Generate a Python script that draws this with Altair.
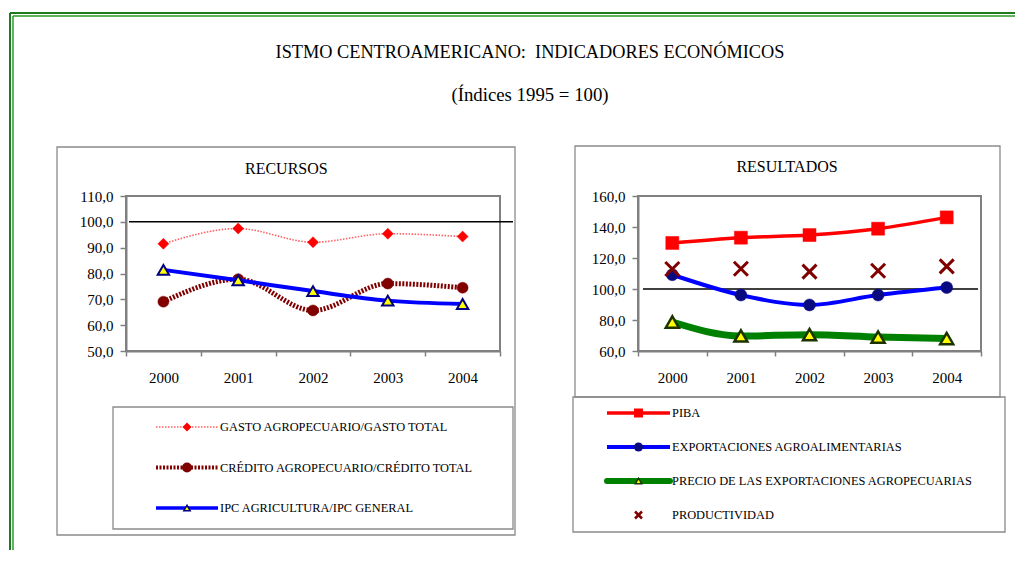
import altair as alt
import pandas as pd

# ---------------- data ----------------
years = ["2000", "2001", "2002", "2003", "2004"]

gasto = [91.5, 97.4, 92.1, 95.4, 94.3]
credito = [69.1, 77.8, 65.7, 76.1, 74.5]
ipc = [81.4, 77.4, 73.2, 69.5, 68.2]

piba = [129.7, 133.1, 134.8, 138.9, 146.2]
exportaciones = [109.2, 96.1, 89.7, 96.1, 100.9]
precio = [78.7, 69.7, 70.5, 69.0, 68.0]
productividad = [112.9, 113.1, 111.2, 111.8, 114.6]

left_ticks = [50, 60, 70, 80, 90, 100, 110]
right_ticks = [60, 80, 100, 120, 140, 160]
base_index = [100]

title_text = "ISTMO CENTROAMERICANO:\u00a0 INDICADORES ECONÓMICOS"
subtitle_text = "(Índices 1995 = 100)"
left_title = "RECURSOS"
right_title = "RESULTADOS"
left_labels = ["GASTO AGROPECUARIO/GASTO TOTAL",
               "CRÉDITO AGROPECUARIO/CRÉDITO TOTAL",
               "IPC AGRICULTURA/IPC GENERAL"]
right_labels = ["PIBA",
                "EXPORTACIONES AGROALIMENTARIAS",
                "PRECIO DE LAS EXPORTACIONES AGROPECUARIAS",
                "PRODUCTIVIDAD"]

FONT = "'Liberation Serif', 'Times New Roman', 'DejaVu Serif', serif"
GRAY = "#808080"
LABEL_EXPR = "replace(format(datum.value, '.1f'), '.', ',')"
dummy = pd.DataFrame({"d": [0]})


def x_enc():
    return alt.X("year:O",
                 scale=alt.Scale(type="band", paddingInner=0, paddingOuter=0),
                 bandPosition=0.5,
                 axis=alt.Axis(title=None, labelAngle=0, tickBand="extent",
                               labelFont=FONT, labelFontSize=15, labelColor="black",
                               labelPadding=14, tickSize=5, tickColor=GRAY,
                               tickWidth=1.5, domainColor=GRAY, domainWidth=2))


def y_enc(domain, ticks):
    return alt.Y("value:Q",
                 scale=alt.Scale(domain=domain, nice=False, zero=False),
                 axis=alt.Axis(title=None, values=ticks, labelExpr=LABEL_EXPR,
                               grid=False, tickSize=6, labelPadding=7,
                               labelFont=FONT, labelFontSize=15, labelColor="black",
                               tickColor=GRAY, tickWidth=1.5,
                               domainColor=GRAY, domainWidth=2))


def series(values, domain, ticks, line=None, point=None):
    df = pd.DataFrame({"year": years, "value": values})
    out = []
    if line is not None:
        out.append(alt.Chart(df).mark_line(interpolate="monotone", **line)
                   .encode(x=x_enc(), y=y_enc(domain, ticks)))
    if point is not None:
        out.append(alt.Chart(df).mark_point(opacity=1, **point)
                   .encode(x=x_enc(), y=y_enc(domain, ticks)))
    return out


def ref_line(domain, ticks, x0, x1):
    df = pd.DataFrame({"value": base_index})
    return alt.Chart(df).mark_rule(color="black", strokeWidth=1.5).encode(
        y=y_enc(domain, ticks), x=alt.value(x0), x2=alt.value(x1))


def legend_rows(labels, styles, xr, yr):
    lx = alt.Scale(domain=[0, 1], range=xr, nice=False, zero=False)
    ly = alt.Scale(domain=[0, len(labels) - 1], range=yr, nice=False, zero=False)
    out = []
    for i, (lab, (line, point)) in enumerate(zip(labels, styles)):
        df = pd.DataFrame({"s": [0], "e": [1], "m": [0.5], "row": [i], "label": [lab]})
        if line is not None:
            out.append(alt.Chart(df).mark_rule(**line).encode(
                x=alt.X("s:Q", scale=lx, axis=None), x2="e:Q",
                y=alt.Y("row:Q", scale=ly, axis=None)))
        out.append(alt.Chart(df).mark_point(opacity=1, **point).encode(
            x=alt.X("m:Q", scale=lx, axis=None),
            y=alt.Y("row:Q", scale=ly, axis=None)))
        out.append(alt.Chart(df).mark_text(align="left", baseline="middle", dx=2,
                                           font=FONT, fontSize=12.4, color="black").encode(
            x=alt.X("e:Q", scale=lx, axis=None),
            y=alt.Y("row:Q", scale=ly, axis=None), text="label:N"))
    return out


def rule_px(x, x2, y, y2, color, width):
    return alt.Chart(dummy).mark_rule(color=color, strokeWidth=width).encode(
        x=alt.value(x), x2=alt.value(x2), y=alt.value(y), y2=alt.value(y2))


def box_px(x, x2, y, y2, color="#8a8a8a", width=1.3):
    return alt.Chart(dummy).mark_rect(fillOpacity=0, stroke=color, strokeWidth=width).encode(
        x=alt.value(x), x2=alt.value(x2), y=alt.value(y), y2=alt.value(y2))


def text_px(x, y, text, size):
    return alt.Chart(dummy).mark_text(text=text, font=FONT, fontSize=size, color="black",
                                      align="center", baseline="alphabetic").encode(
        x=alt.value(x), y=alt.value(y))


# ---------------- left panel: RECURSOS ----------------
LD, LT = [50, 110], left_ticks
st_gasto_line = dict(color="#ff6060", strokeWidth=1.6, strokeDash=[1.5, 1.5])
st_gasto_pt = dict(shape="diamond", filled=True, fill="#ff0000", stroke="#ff0000",
                   strokeWidth=0.5, size=121)
st_cred_line = dict(color="#800000", strokeWidth=5, strokeDash=[2, 1.5])
st_cred_pt = dict(shape="circle", filled=True, fill="#800000", stroke="#800000",
                  strokeWidth=0.5, size=121)
st_ipc_line = dict(color="#0000ff", strokeWidth=4)
st_ipc_pt = dict(shape="triangle-up", filled=True, fill="#ffff00", stroke="#000080",
                 strokeWidth=2, size=130)

left_main = alt.layer(
    ref_line(LD, LT, 3, 387),
    *series(gasto, LD, LT, st_gasto_line, st_gasto_pt),
    *series(credito, LD, LT, st_cred_line, st_cred_pt),
    *series(ipc, LD, LT, st_ipc_line, st_ipc_pt),
)

left_leg = alt.layer(*legend_rows(
    left_labels,
    [(dict(color="#ff6060", strokeWidth=1.5, strokeDash=[1.5, 1.5]),
      dict(shape="diamond", filled=True, fill="#ff0000", size=81)),
     (dict(color="#800000", strokeWidth=4, strokeDash=[2, 1.5]),
      dict(shape="circle", filled=True, fill="#800000", size=100)),
     (dict(color="#0000ff", strokeWidth=3.5),
      dict(shape="triangle-up", filled=True, fill="#ffff00", stroke="#000080",
           strokeWidth=1.5, size=40))],
    [30, 92], [231, 312]))

left = alt.layer(
    # green frame (top and left double line)
    rule_px(-116, -116, -183, 354, "#1e7b1e", 2),
    rule_px(-116, 889, -183, -183, "#1e7b1e", 2),
    rule_px(-113, -113, -180, 354, "#2a9a2a", 1.5),
    rule_px(-113, 889, -180, -180, "#2a9a2a", 1.5),
    text_px(404, -138.3, title_text, 18.3),
    text_px(404, -95.5, subtitle_text, 18.8),
    box_px(-69, 389, -49, 339),
    box_px(-13, 387, 211, 333),
    text_px(160.3, -22, left_title, 16),
    left_main,
    left_leg,
).resolve_scale(x="independent", y="independent").properties(width=374, height=155)

# ---------------- right panel: RESULTADOS ----------------
RD, RT = [60, 160], right_ticks
right_main = alt.layer(
    ref_line(RD, RT, 5, 340),
    *series(piba, RD, RT, dict(color="#ff0000", strokeWidth=3.5),
            dict(shape="square", filled=True, fill="#ff0000", stroke="#ff0000",
                 strokeWidth=0.5, size=169)),
    *series(exportaciones, RD, RT, dict(color="#0000ff", strokeWidth=4),
            dict(shape="circle", filled=True, fill="#0a0a80", stroke="#0a0a80",
                 strokeWidth=0.5, size=144)),
    *series(precio, RD, RT, dict(color="#008000", strokeWidth=7, strokeCap="round"),
            dict(shape="triangle-up", filled=True, fill="#ffff00", stroke="#1a3300",
                 strokeWidth=2.5, size=170)),
    *series(productividad, RD, RT, None,
            dict(shape="M-1,-1L1,1M1,-1L-1,1", filled=False, stroke="#800000",
                 strokeWidth=3, size=196)),
)

right_leg = alt.layer(*legend_rows(
    right_labels,
    [(dict(color="#ff0000", strokeWidth=3.5),
      dict(shape="square", filled=True, fill="#ff0000", size=81)),
     (dict(color="#0000ff", strokeWidth=4),
      dict(shape="circle", filled=True, fill="#0a0a80", size=81)),
     (dict(color="#008000", strokeWidth=6, strokeCap="round"),
      dict(shape="triangle-up", filled=True, fill="#ffff00", stroke="#1a3300",
           strokeWidth=1.5, size=40)),
     (None,
      dict(shape="M-1,-1L1,1M1,-1L-1,1", filled=False, stroke="#800000",
           strokeWidth=2.5, size=49))],
    [-31, 32], [217, 319]))

right = alt.layer(
    box_px(-63, 362, -50, 201),
    box_px(-65, 367, 201, 336),
    text_px(149, -24.3, right_title, 16),
    right_main,
    right_leg,
).resolve_scale(x="independent", y="independent").properties(width=343, height=155)

chart = alt.hconcat(
    left, right, spacing=138, bounds="flush",
    padding={"left": 0, "top": 3, "right": 0, "bottom": 0},
    background="white",
).configure_view(stroke=GRAY, strokeWidth=2)

chart.save("out.html", embed_options={"renderer": "svg", "actions": False})
